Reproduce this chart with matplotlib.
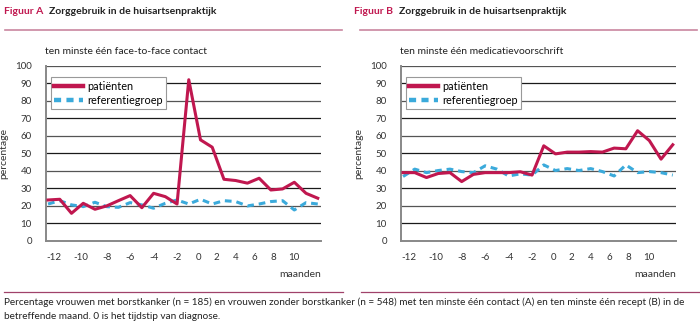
import matplotlib
matplotlib.use('Agg')
import matplotlib.pyplot as plt
from matplotlib.lines import Line2D

plt.rcParams['font.family'] = ['Lato', 'DejaVu Sans']

# months relative to diagnosis
months = list(range(-12, 12))

# Figuur A: ten minste een face-to-face contact
patients_a = [23.4, 23.8, 15.8, 21.5, 18.1, 20.0, 23.0, 25.9, 19.0, 27.2, 25.3, 21.1,
              92.0, 57.7, 53.5, 35.2, 34.5, 33.0, 35.8, 29.1, 29.7, 33.5, 27.2, 24.4]
reference_a = [21.1, 23.0, 20.6, 19.6, 22.1, 19.6, 19.2, 21.9, 20.6, 18.7, 21.5, 23.4,
               21.1, 23.8, 21.1, 23.0, 22.5, 20.0, 21.1, 22.5, 23.0, 17.7, 21.9, 21.1]

# Figuur B: ten minste een medicatievoorschrift
patients_b = [39.0, 39.0, 36.2, 38.5, 39.0, 33.9, 38.0, 39.0, 39.0, 39.0, 39.5, 37.6,
              54.3, 49.7, 50.7, 50.7, 51.0, 50.7, 53.0, 52.6, 62.9, 57.3, 46.7, 54.9]
reference_b = [36.8, 41.0, 39.0, 40.2, 41.0, 39.6, 39.0, 42.9, 41.0, 37.1, 38.3, 37.6,
               43.4, 40.2, 41.3, 40.2, 41.3, 39.6, 37.1, 43.4, 39.0, 39.6, 39.0, 37.6]

tick_labels = ['-12', '-10', '-8', '-6', '-4', '-2', '0', '2', '4', '6', '8', '10']
# the labels in the original sit slightly off the data grid
tick_pos = [-11.5, -9.2, -7.0, -5.05, -3.0, -1.0, 0.8, 2.35, 4.0, 5.6, 7.25, 8.95]

panels = [
    ('Figuur A', 'ten minste één face-to-face contact', patients_a, reference_a),
    ('Figuur B', 'ten minste één medicatievoorschrift', patients_b, reference_b),
]

RED = '#C0174F'
BLUE = '#3BAADB'

fig = plt.figure(figsize=(7, 3.36), dpi=100)

lefts = [45.7, 400.7]
W, H = 700.0, 336.0

for i, (fig_label, subtitle, pat, ref) in enumerate(panels):
    x0 = lefts[i]
    ax = fig.add_axes([x0 / W, 1 - 241 / H, 275 / W, 175.3 / H])

    for y in range(10, 101, 10):
        ax.axhline(y, color='#1a1a1a' if y % 20 else '#555555', lw=0.9, zorder=1)

    ax.plot(months, ref, color=BLUE, lw=2.2, dashes=(2.2, 1.6), zorder=3,
            label='referentiegroep')
    ax.plot(months, pat, color=RED, lw=2.2, zorder=4, label='patiënten')

    ax.set_xlim(-12.2, 11.25)
    ax.set_ylim(0, 100)
    ax.set_yticks(range(0, 101, 10))
    ax.set_xticks(tick_pos)
    ax.set_xticklabels(tick_labels)
    ax.tick_params(axis='both', length=0, labelsize=7, colors='#333333')
    ax.tick_params(axis='x', pad=9)
    ax.tick_params(axis='y', pad=10)
    for s in ['top', 'right']:
        ax.spines[s].set_visible(False)
    for s in ['left', 'bottom']:
        ax.spines[s].set_color('#888888')
        ax.spines[s].set_linewidth(1.4)
    ax.set_ylabel('percentage', fontsize=7.5, color='#333333')
    ax.yaxis.set_label_coords(-0.135, 0.5)

    handles = [Line2D([], [], color=RED, lw=3.2),
               Line2D([], [], color=BLUE, lw=3.2, dashes=(1.6, 1.2))]
    leg = ax.legend(handles, ['patiënten', 'referentiegroep'], loc='upper left',
                    bbox_to_anchor=(0.018, 0.935), fontsize=7.8, frameon=True,
                    fancybox=False, edgecolor='#999999', framealpha=1,
                    handlelength=2.6, handletextpad=0.4, borderpad=0.35,
                    labelspacing=0.25, borderaxespad=0)
    leg.get_frame().set_linewidth(0.8)
    leg.set_zorder(5)

    ax.text(1.0, -0.19, 'maanden', transform=ax.transAxes, ha='right', va='center',
            fontsize=7.5, color='#333333')

    # header
    tx = 4 if i == 0 else 354
    fig.text(tx / W, 1 - 11 / H, fig_label, fontsize=7.5, fontweight='bold',
             color=RED, va='center')
    fig.text((tx + 45) / W, 1 - 11 / H, 'Zorggebruik in de huisartsenpraktijk',
             fontsize=7.5, fontweight='bold', color='#222222', va='center')
    lx = (5, 342) if i == 0 else (360, 697)
    fig.add_artist(Line2D([lx[0] / W, lx[1] / W], [1 - 30 / H, 1 - 30 / H],
                          color='#C9869F', lw=1.2))
    fig.text((x0 - 1) / W, 1 - 51 / H, subtitle, fontsize=7.5, color='#222222',
             va='center')

# caption
fig.add_artist(Line2D([4 / W, 343 / W], [1 - 292 / H, 1 - 292 / H], color='#A0426A', lw=0.9))
fig.add_artist(Line2D([361 / W, 699 / W], [1 - 292 / H, 1 - 292 / H], color='#A0426A', lw=0.9))
caption = ('Percentage vrouwen met borstkanker (n = 185) en vrouwen zonder borstkanker (n = 548) '
           'met ten minste één contact (A) en ten minste één recept (B) in de\n'
           'betreffende maand. 0 is het tijdstip van diagnose.')
fig.text(4 / W, 1 - 297 / H, caption, fontsize=7.2, color='#222222', va='top',
         linespacing=1.8)

fig.savefig('out.png', dpi=100, facecolor='white')
